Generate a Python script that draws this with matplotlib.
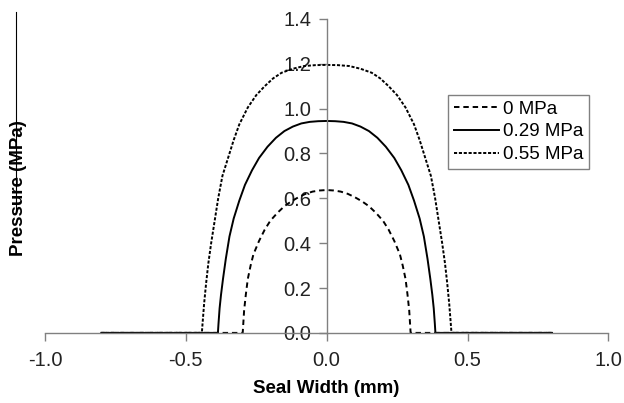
import matplotlib
matplotlib.use("Agg")
import matplotlib.pyplot as plt
from matplotlib.lines import Line2D

# contact pressure profiles (x in mm, pressure in MPa)
x_0 = [-0.8, -0.298, -0.296, -0.293, -0.287, -0.28, -0.27, -0.26, -0.24, -0.22,
       -0.2, -0.175, -0.15, -0.125, -0.1, -0.075, -0.05, -0.025, 0.0,
       0.025, 0.05, 0.075, 0.1, 0.125, 0.15, 0.175, 0.2,
       0.22, 0.24, 0.26, 0.27, 0.28, 0.287, 0.293, 0.296, 0.298, 0.8]
p_0 = [0.0, 0.0, 0.04, 0.10, 0.17, 0.24, 0.30, 0.35, 0.41, 0.46,
       0.50, 0.535, 0.565, 0.587, 0.605, 0.62, 0.630, 0.635, 0.637,
       0.635, 0.630, 0.62, 0.605, 0.587, 0.565, 0.535, 0.50,
       0.46, 0.41, 0.35, 0.30, 0.24, 0.17, 0.10, 0.04, 0.0, 0.0]

x_029 = [-0.8, -0.386, -0.384, -0.38, -0.375, -0.368, -0.358, -0.345, -0.33, -0.31,
         -0.29, -0.265, -0.24, -0.21, -0.18, -0.15, -0.12, -0.09, -0.06, -0.03, 0.0,
         0.03, 0.06, 0.09, 0.12, 0.15, 0.18, 0.21, 0.24, 0.265,
         0.29, 0.31, 0.33, 0.345, 0.358, 0.368, 0.375, 0.38, 0.384, 0.386, 0.8]
p_029 = [0.0, 0.0, 0.04, 0.11, 0.17, 0.24, 0.33, 0.43, 0.51, 0.59,
         0.66, 0.725, 0.78, 0.83, 0.87, 0.90, 0.92, 0.934, 0.941, 0.944, 0.945,
         0.944, 0.941, 0.934, 0.92, 0.90, 0.87, 0.83, 0.78, 0.725,
         0.66, 0.59, 0.51, 0.43, 0.33, 0.24, 0.17, 0.11, 0.04, 0.0, 0.0]

x_055 = [-0.8, -0.443, -0.44, -0.435, -0.428, -0.42, -0.41, -0.40, -0.385, -0.37,
         -0.35, -0.33, -0.31, -0.28, -0.25, -0.22, -0.19, -0.16, -0.12, -0.08, -0.04, 0.0,
         0.04, 0.08, 0.12, 0.16, 0.19, 0.22, 0.25, 0.28, 0.31,
         0.33, 0.35, 0.37, 0.385, 0.40, 0.41, 0.42, 0.428, 0.435, 0.44, 0.443, 0.8]
p_055 = [0.0, 0.0, 0.05, 0.13, 0.22, 0.31, 0.40, 0.48, 0.60, 0.70,
         0.78, 0.86, 0.93, 1.005, 1.06, 1.10, 1.135, 1.16, 1.178, 1.19, 1.194, 1.195,
         1.194, 1.19, 1.178, 1.16, 1.135, 1.10, 1.06, 1.005, 0.93,
         0.86, 0.78, 0.70, 0.60, 0.48, 0.40, 0.31, 0.22, 0.13, 0.05, 0.0, 0.0]

labels = ["0 MPa", "0.29 MPa", "0.55 MPa"]
x_ticks = [-1.0, -0.5, 0.0, 0.5, 1.0]
y_ticks = [0.0, 0.2, 0.4, 0.6, 0.8, 1.0, 1.2, 1.4]

plt.rcParams["font.family"] = ["Liberation Sans", "DejaVu Sans"]

fig = plt.figure(figsize=(6.24, 4.03), dpi=100)
ax = fig.add_axes([0.072, 0.174, 0.903, 0.779])

ax.plot(x_0, p_0, color="black", lw=1.4, linestyle=(0, (2.8, 2.0)), label=labels[0])
ax.plot(x_029, p_029, color="black", lw=1.4, linestyle="-", label=labels[1])
ax.plot(x_055, p_055, color="black", lw=1.4, linestyle=(0, (1.6, 0.9)), label=labels[2])

ax.set_xlim(-1.0, 1.0)
ax.set_ylim(0.0, 1.4)
ax.set_xticks(x_ticks)
ax.set_yticks(y_ticks)
ax.set_xticklabels([f"{v:.1f}" for v in x_ticks])
ax.set_yticklabels([f"{v:.1f}" for v in y_ticks])

ax.spines["left"].set_position(("data", 0))
ax.spines["top"].set_visible(False)
ax.spines["right"].set_visible(False)
for s in ["left", "bottom"]:
    ax.spines[s].set_color("#808080")
    ax.spines[s].set_linewidth(1.0)
ax.tick_params(axis="both", direction="out", length=6, width=1.0,
               color="#808080", labelsize=14.5, labelcolor="#222222")
ax.tick_params(axis="y", pad=5)
ax.tick_params(axis="x", pad=7)

ax.set_xlabel("Seal Width (mm)", fontsize=13.5, fontweight="bold")
ax.xaxis.set_label_coords(0.5, -0.15)
ax.set_ylabel("Pressure (MPa)", fontsize=13.5, fontweight="bold")
ax.yaxis.set_label_coords(-0.031, 0.46)

leg = ax.legend(loc="upper left", bbox_to_anchor=(0.716, 0.758), borderaxespad=0,
                fontsize=13.5, handlelength=2.4, handletextpad=0.2,
                fancybox=False, framealpha=1, edgecolor="#808080",
                borderpad=0.3, labelspacing=0.3)
leg.get_frame().set_linewidth(1.0)

# thin scan line at the left edge of the original picture
fig.add_artist(Line2D([0.025, 0.025], [0.970, 0.474], color="black", lw=0.8))

fig.savefig("out.png", dpi=100)
